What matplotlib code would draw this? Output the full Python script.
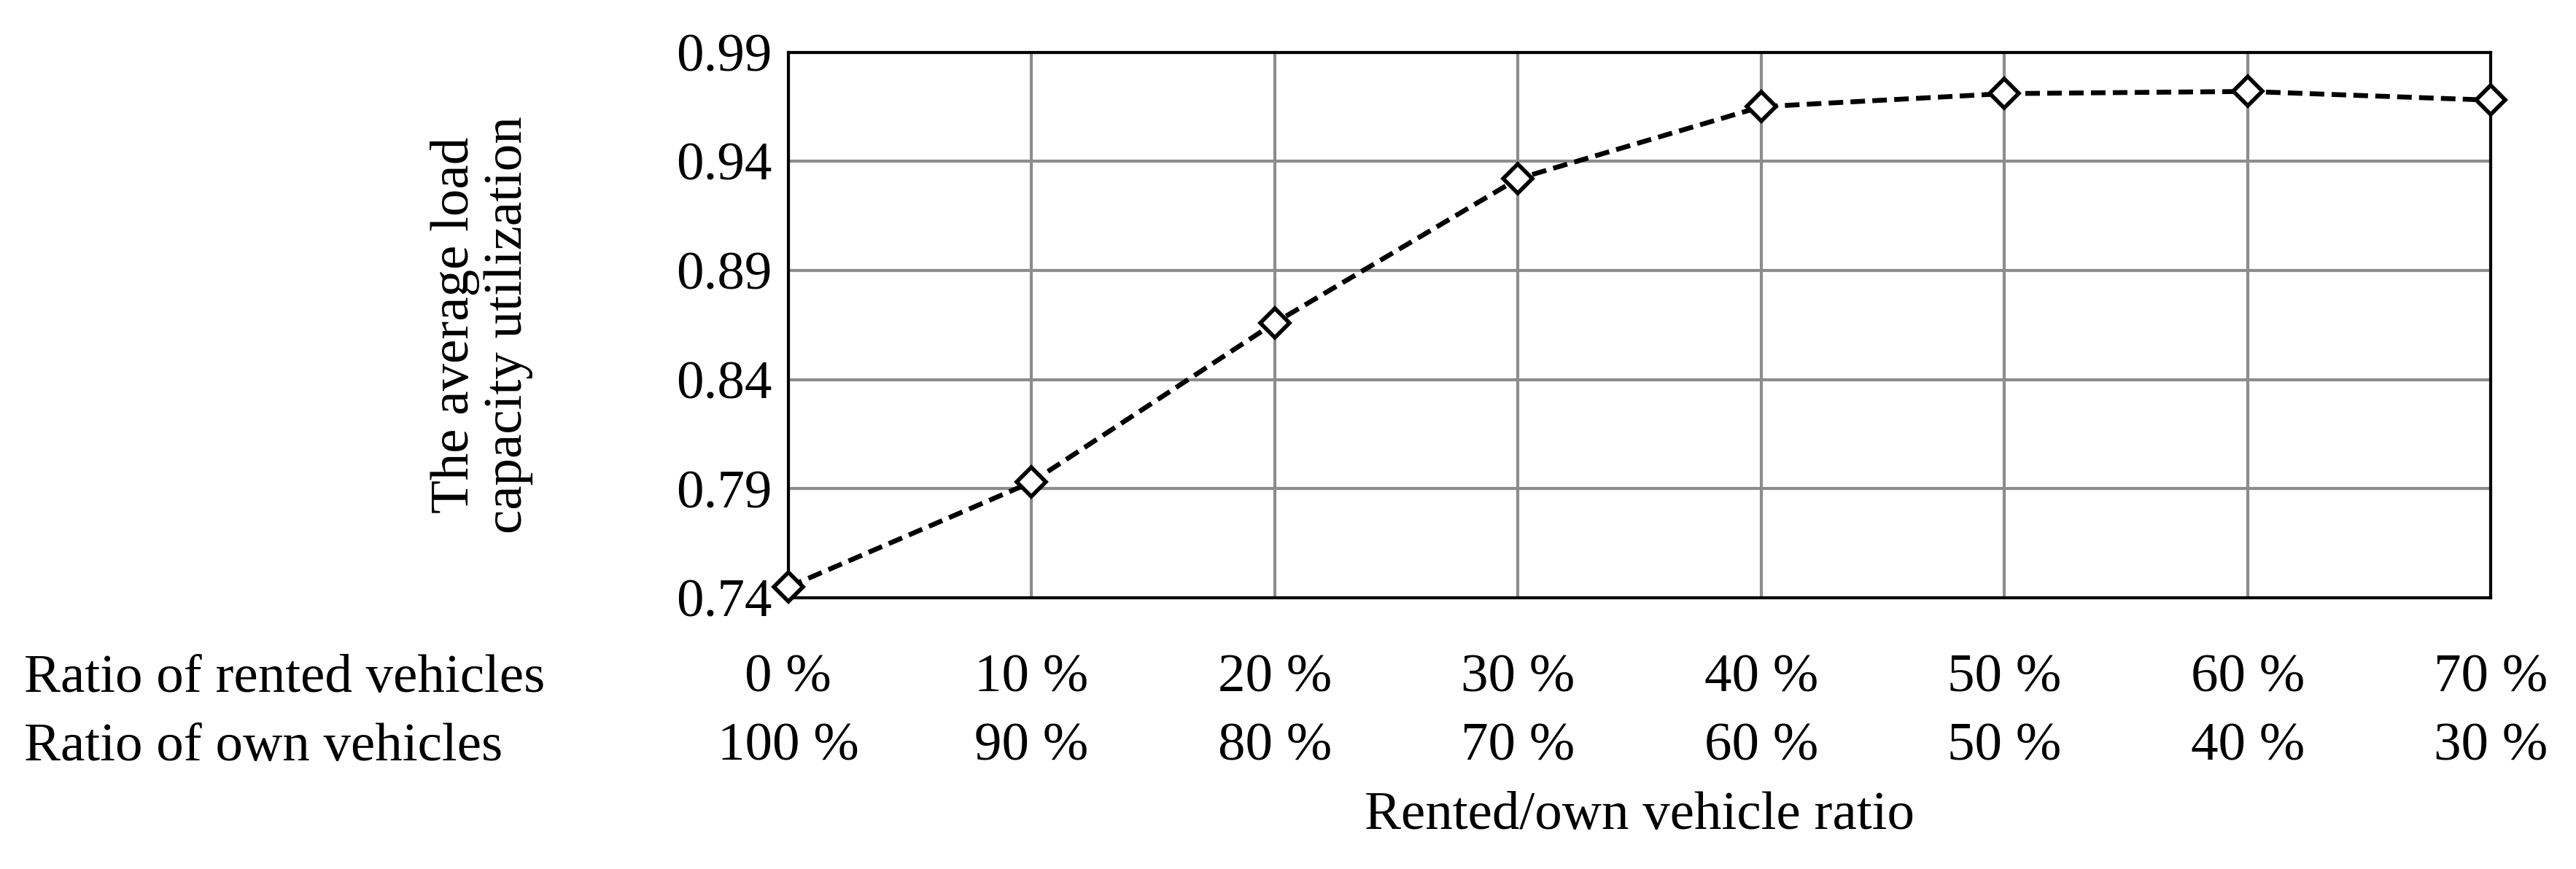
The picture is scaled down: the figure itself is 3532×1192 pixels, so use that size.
import matplotlib.pyplot as plt
from matplotlib.transforms import blended_transform_factory

rented = ["0 %", "10 %", "20 %", "30 %", "40 %", "50 %", "60 %", "70 %"]
own = ["100 %", "90 %", "80 %", "70 %", "60 %", "50 %", "40 %", "30 %"]
utilization = [0.745, 0.793, 0.866, 0.932, 0.965, 0.971, 0.972, 0.968]
y_ticks = [0.74, 0.79, 0.84, 0.89, 0.94, 0.99]

plt.rcParams['font.family'] = ['Liberation Serif', 'DejaVu Serif']
fs = 27

fig = plt.figure(figsize=(17.66, 5.96), dpi=200)
ax = fig.add_axes([0.306, 0.312, 0.661, 0.628])

x = list(range(len(rented)))
ax.plot(x, utilization, linestyle=(0, (3, 1.5)), color="black", linewidth=2.4,
        marker="D", markersize=10, markerfacecolor="white", markeredgecolor="black",
        markeredgewidth=2, zorder=3, clip_on=False)

ax.set_xlim(0, len(rented) - 1)
ax.set_ylim(0.74, 0.99)
ax.set_yticks(y_ticks)
ax.set_yticklabels([f"{v:.2f}" for v in y_ticks], fontsize=fs)
ax.set_xticks(x)
ax.set_xticklabels([])
ax.tick_params(axis="x", length=0)
ax.tick_params(axis="y", length=0, pad=8)
ax.grid(True, color="#8c8c8c", linewidth=1.5)
ax.set_axisbelow(True)
for s in ax.spines.values():
    s.set_color("black")
    s.set_linewidth(1.5)

tr = blended_transform_factory(ax.transData, ax.transAxes)
for i in x:
    ax.text(i, -0.148, rented[i], transform=tr, ha="center", va="center", fontsize=fs)
    ax.text(i, -0.274, own[i], transform=tr, ha="center", va="center", fontsize=fs)
ax.text(-0.449, -0.148, "Ratio of rented vehicles", transform=ax.transAxes, ha="left", va="center", fontsize=fs)
ax.text(-0.449, -0.274, "Ratio of own vehicles", transform=ax.transAxes, ha="left", va="center", fontsize=fs)
ax.text(0.5, -0.40, "Rented/own vehicle ratio", transform=ax.transAxes, ha="center", va="center", fontsize=fs)
ax.text(-0.18, 0.5, "The average load\ncapacity utilization", transform=ax.transAxes,
        ha="center", va="center", rotation=90, fontsize=fs, linespacing=1.1)

fig.savefig("out.png")
